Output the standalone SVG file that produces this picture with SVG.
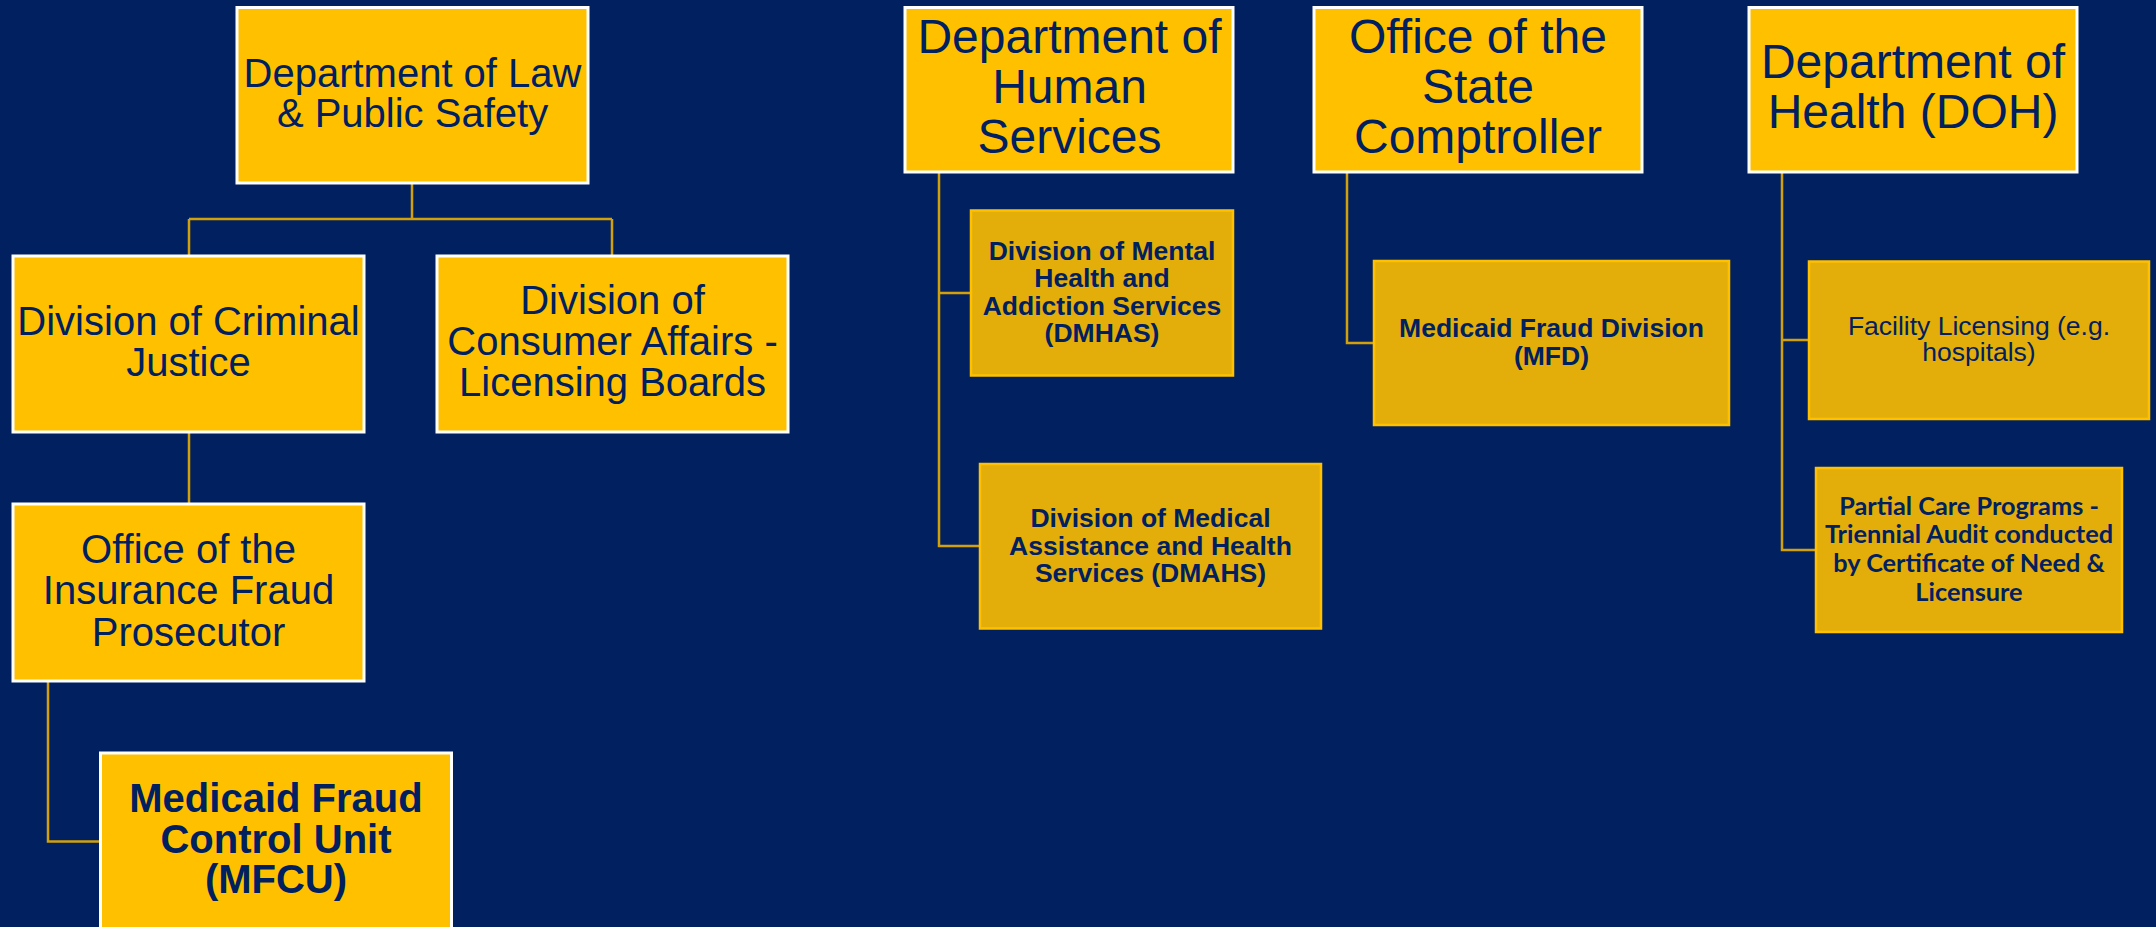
<svg xmlns="http://www.w3.org/2000/svg" width="2156" height="927" viewBox="0 0 2156 927">
  <style>
    .bg { fill: #002060; }
    .unit { fill: #FFC000; stroke: #FFFFFF; stroke-width: 3; }
    .sub { fill: #E3AE0A; stroke: #FFC000; stroke-width: 2.5; }
    .link { fill: none; stroke: #D1A00B; stroke-width: 2.5; }
    text { fill: #002060; font-family: "Liberation Sans", Arial, sans-serif; text-anchor: middle; }
    .t40 { font-size: 40px; }
    .t48 { font-size: 48px; }
    .b40 { font-size: 40px; font-weight: bold; }
    .b26 { font-size: 26.5px; font-weight: bold; }
    .r26 { font-size: 26.5px; }
    .cal { font-family: Lato, "Open Sans", sans-serif; font-size: 25.3px; font-weight: bold; }
  </style>

  <rect class="bg" x="0" y="0" width="2156" height="927"/>

  <!-- connectors -->
  <g id="connectors">
    <path class="link" d="M412,183 V219 M189,219 H612 M189,219 V256 M612,219 V256"/>
    <path class="link" d="M189,432 V504"/>
    <path class="link" d="M48,681 V841.5 H100.5"/>
    <path class="link" d="M939,172 V546 H980 M939,293 H971"/>
    <path class="link" d="M1347,172 V343 H1374"/>
    <path class="link" d="M1782,172 V550 H1816 M1782,340 H1809"/>
  </g>

  <!-- Department of Law & Public Safety branch -->
  <g id="law">
    <rect class="unit" x="237" y="7.5" width="351" height="175.5"/>
    <text class="t40" x="412.5" y="87">Department of Law</text>
    <text class="t40" x="412.5" y="127">&amp; Public Safety</text>
  </g>
  <g id="criminal-justice">
    <rect class="unit" x="13" y="256" width="351" height="176"/>
    <text class="t40" x="188.5" y="335">Division of Criminal</text>
    <text class="t40" x="188.5" y="376">Justice</text>
  </g>
  <g id="consumer-affairs">
    <rect class="unit" x="437" y="256" width="351" height="176"/>
    <text class="t40" x="612.5" y="314">Division of</text>
    <text class="t40" x="612.5" y="355">Consumer Affairs -</text>
    <text class="t40" x="612.5" y="396">Licensing Boards</text>
  </g>
  <g id="insurance-fraud">
    <rect class="unit" x="13" y="504" width="351" height="177"/>
    <text class="t40" x="188.5" y="563">Office of the</text>
    <text class="t40" x="188.5" y="604">Insurance Fraud</text>
    <text class="t40" x="188.5" y="646">Prosecutor</text>
  </g>
  <g id="mfcu">
    <rect class="unit" x="100.5" y="753" width="351" height="190"/>
    <text class="b40" x="276" y="812">Medicaid Fraud</text>
    <text class="b40" x="276" y="853">Control Unit</text>
    <text class="b40" x="276" y="893">(MFCU)</text>
  </g>

  <!-- Department of Human Services branch -->
  <g id="human-services">
    <rect class="unit" x="905" y="7.5" width="328" height="164.5"/>
    <text class="t48" x="1069.5" y="53">Department of</text>
    <text class="t48" x="1069.5" y="103">Human</text>
    <text class="t48" x="1069.5" y="153">Services</text>
  </g>
  <g id="dmhas">
    <rect class="sub" x="971" y="210.5" width="262" height="165"/>
    <text class="b26" x="1102" y="260">Division of Mental</text>
    <text class="b26" x="1102" y="287">Health and</text>
    <text class="b26" x="1102" y="315">Addiction Services</text>
    <text class="b26" x="1102" y="342">(DMHAS)</text>
  </g>
  <g id="dmahs">
    <rect class="sub" x="980" y="464" width="341" height="164.5"/>
    <text class="b26" x="1150.5" y="527">Division of Medical</text>
    <text class="b26" x="1150.5" y="555">Assistance and Health</text>
    <text class="b26" x="1150.5" y="582">Services (DMAHS)</text>
  </g>

  <!-- Office of the State Comptroller branch -->
  <g id="comptroller">
    <rect class="unit" x="1314" y="7.5" width="328" height="164.5"/>
    <text class="t48" x="1478" y="53">Office of the</text>
    <text class="t48" x="1478" y="103">State</text>
    <text class="t48" x="1478" y="153">Comptroller</text>
  </g>
  <g id="mfd">
    <rect class="sub" x="1374" y="261" width="355" height="164"/>
    <text class="b26" x="1551.5" y="337">Medicaid Fraud Division</text>
    <text class="b26" x="1551.5" y="365">(MFD)</text>
  </g>

  <!-- Department of Health branch -->
  <g id="doh">
    <rect class="unit" x="1749" y="7.5" width="328" height="164.5"/>
    <text class="t48" x="1913" y="78">Department of</text>
    <text class="t48" x="1913" y="128">Health (DOH)</text>
  </g>
  <g id="facility-licensing">
    <rect class="sub" x="1809" y="261.5" width="340" height="157.5"/>
    <text class="r26" x="1979" y="335">Facility Licensing (e.g.</text>
    <text class="r26" x="1979" y="361">hospitals)</text>
  </g>
  <g id="partial-care">
    <rect class="sub" x="1816" y="468" width="306" height="164"/>
    <text class="cal" x="1969" y="515">Partial Care Programs -</text>
    <text class="cal" x="1969" y="543">Triennial Audit conducted</text>
    <text class="cal" x="1969" y="572">by Certificate of Need &amp;</text>
    <text class="cal" x="1969" y="601">Licensure</text>
  </g>
</svg>
